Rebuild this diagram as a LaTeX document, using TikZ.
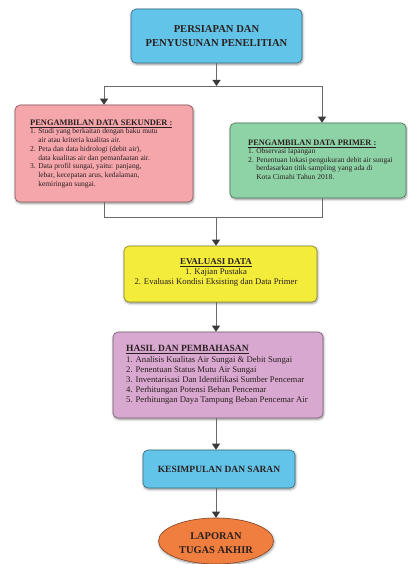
\documentclass[tikz,border=0pt]{standalone}
\usepackage{fontspec}
\setmainfont{Liberation Serif}
\usetikzlibrary{arrows.meta,shapes.geometric,shadows.blur}
\definecolor{cblue}{HTML}{62C4E8}
\definecolor{cpink}{HTML}{F4A6AB}
\definecolor{cgreen}{HTML}{8ED3A6}
\definecolor{cyellow}{HTML}{F3EC3B}
\definecolor{cpurple}{HTML}{D8A8D0}
\definecolor{corange}{HTML}{F07E3E}
\definecolor{cline}{HTML}{6A6A6A}
\definecolor{ctip}{HTML}{3A3A3A}
\definecolor{ctext}{HTML}{2A2020}
\tikzset{
  boxshape/.style={draw=#1!55!black, fill=#1, line width=0.6pt, rounded corners=5pt,
    inner sep=0pt, blur shadow={shadow blur steps=6, shadow xshift=0.6pt, shadow yshift=-1.2pt, shadow opacity=45, shadow blur radius=2.5pt}},
  conn/.style={draw=cline, line width=0.9pt},
  arr/.style={conn, -{Triangle[length=6pt,width=8pt,fill=ctip,color=ctip]}},
  txt/.style={inner sep=0pt, text=ctext},
}
\begin{document}
\begin{tikzpicture}[x=1pt,y=-1pt]
\useasboundingbox (0,0) rectangle (407,564);
% boxes
\node[boxshape=cblue, minimum width=171pt, minimum height=54pt] (top) at (216.5,36) {};
\node[txt, align=center, font=\fontsize{10.6}{14}\selectfont\bfseries] (toptxt) at (216.5,36.5) {PERSIAPAN DAN\\PENYUSUNAN PENELITIAN};

\node[boxshape=cpink, minimum width=178pt, minimum height=97pt] (sek) at (104,153.5) {};
\node[txt, anchor=north west, align=left, font=\fontsize{7.5}{8.7}\selectfont] (sektxt) at (30,119.5)
 {{\fontsize{8.4}{8.7}\selectfont\bfseries\underline{PENGAMBILAN DATA SEKUNDER :}}\\
  1. Studi yang berkaitan dengan baku mutu\\
  \phantom{1. }air atau kriteria kualitas air.\\
  2. Peta dan data hidrologi (debit air),\\
  \phantom{1. }data kualitas air dan pemanfaatan air.\\
  3. Data profil sungai, yaitu: panjang,\\
  \phantom{1. }lebar, kecepatan arus, kedalaman,\\
  \phantom{1. }kemiringan sungai.};

\node[boxshape=cgreen, minimum width=176pt, minimum height=75pt] (prim) at (318,160.5) {};
\node[txt, anchor=north west, align=left, font=\fontsize{7.5}{8.5}\selectfont] (primtxt) at (248,139.5)
 {{\fontsize{8.3}{8.7}\selectfont\bfseries\underline{PENGAMBILAN DATA PRIMER :}}\\
  1. Observasi lapangan\\
  2. Penentuan lokasi pengukuran debit air sungai\\
  \phantom{2. }berdasarkan titik sampling yang ada di\\
  \phantom{2. }Kota Cimahi Tahun 2018.};

\node[boxshape=cyellow, minimum width=193pt, minimum height=56pt] (eval) at (220.5,274) {};
\node[txt, anchor=north, align=center, font=\fontsize{8.7}{10}\selectfont] (evaltxt) at (216,258.5)
 {{\fontsize{9}{10}\selectfont\bfseries\underline{EVALUASI DATA}}\\
  1. Kajian Pustaka\\
  2. Evaluasi Kondisi Eksisting dan Data Primer};

\node[boxshape=cpurple, minimum width=210pt, minimum height=86pt] (hasil) at (218,375) {};
\node[txt, anchor=north west, align=left, font=\fontsize{8.7}{10.2}\selectfont] (hasiltxt) at (126,345.5)
 {{\fontsize{9.5}{10.2}\selectfont\bfseries\underline{HASIL DAN PEMBAHASAN}}\\
  1. Analisis Kualitas Air Sungai \& Debit Sungai\\
  2. Penentuan Status Mutu Air Sungai\\
  3. Inventarisasi Dan Identifikasi Sumber Pencemar\\
  4. Perhitungan Potensi Beban Pencemar\\
  5. Perhitungan Daya Tampung Beban Pencemar Air};

\node[boxshape=cblue, minimum width=152pt, minimum height=38pt] (kes) at (219,469) {};
\node[txt, font=\fontsize{9.5}{10}\selectfont\bfseries] (kestxt) at (219,469) {KESIMPULAN DAN SARAN};

\node[ellipse, draw=corange!55!black, fill=corange, line width=0.6pt, minimum width=115pt, minimum height=46pt, inner sep=0pt,
  blur shadow={shadow blur steps=6, shadow xshift=0.6pt, shadow yshift=-1.2pt, shadow opacity=45, shadow blur radius=2.5pt}] (lap) at (216,541) {};
\node[txt, align=center, font=\fontsize{10.4}{14.5}\selectfont\bfseries] (laptxt) at (216,543) {LAPORAN\\TUGAS AKHIR};

% junction coordinates
\coordinate (j1) at (216.5,86);
\coordinate (jl) at (104,86);
\coordinate (jr) at (322,86);
\coordinate (k1) at (104,217);
\coordinate (k2) at (322,217);
\coordinate (k3) at (216,217);

% connectors
\draw[arr] (top.south -| j1) -- (j1);
\draw[conn] (jl) -- (jr);
\draw[arr] (jl) -- (jl |- sek.north);
\draw[arr] (jr) -- (jr |- prim.north);
\draw[conn] (sek.south -| k1) -- (k1) -- (k2) -- (prim.south -| k2);
\draw[arr] (k3) -- (k3 |- eval.north);
\draw[arr] (eval.south -| k3) -- (k3 |- hasil.north);
\draw[arr] (hasil.south -| k3) -- (k3 |- kes.north);
\draw[arr] (kes.south -| k3) -- (lap.north -| k3);
\end{tikzpicture}
\end{document}
